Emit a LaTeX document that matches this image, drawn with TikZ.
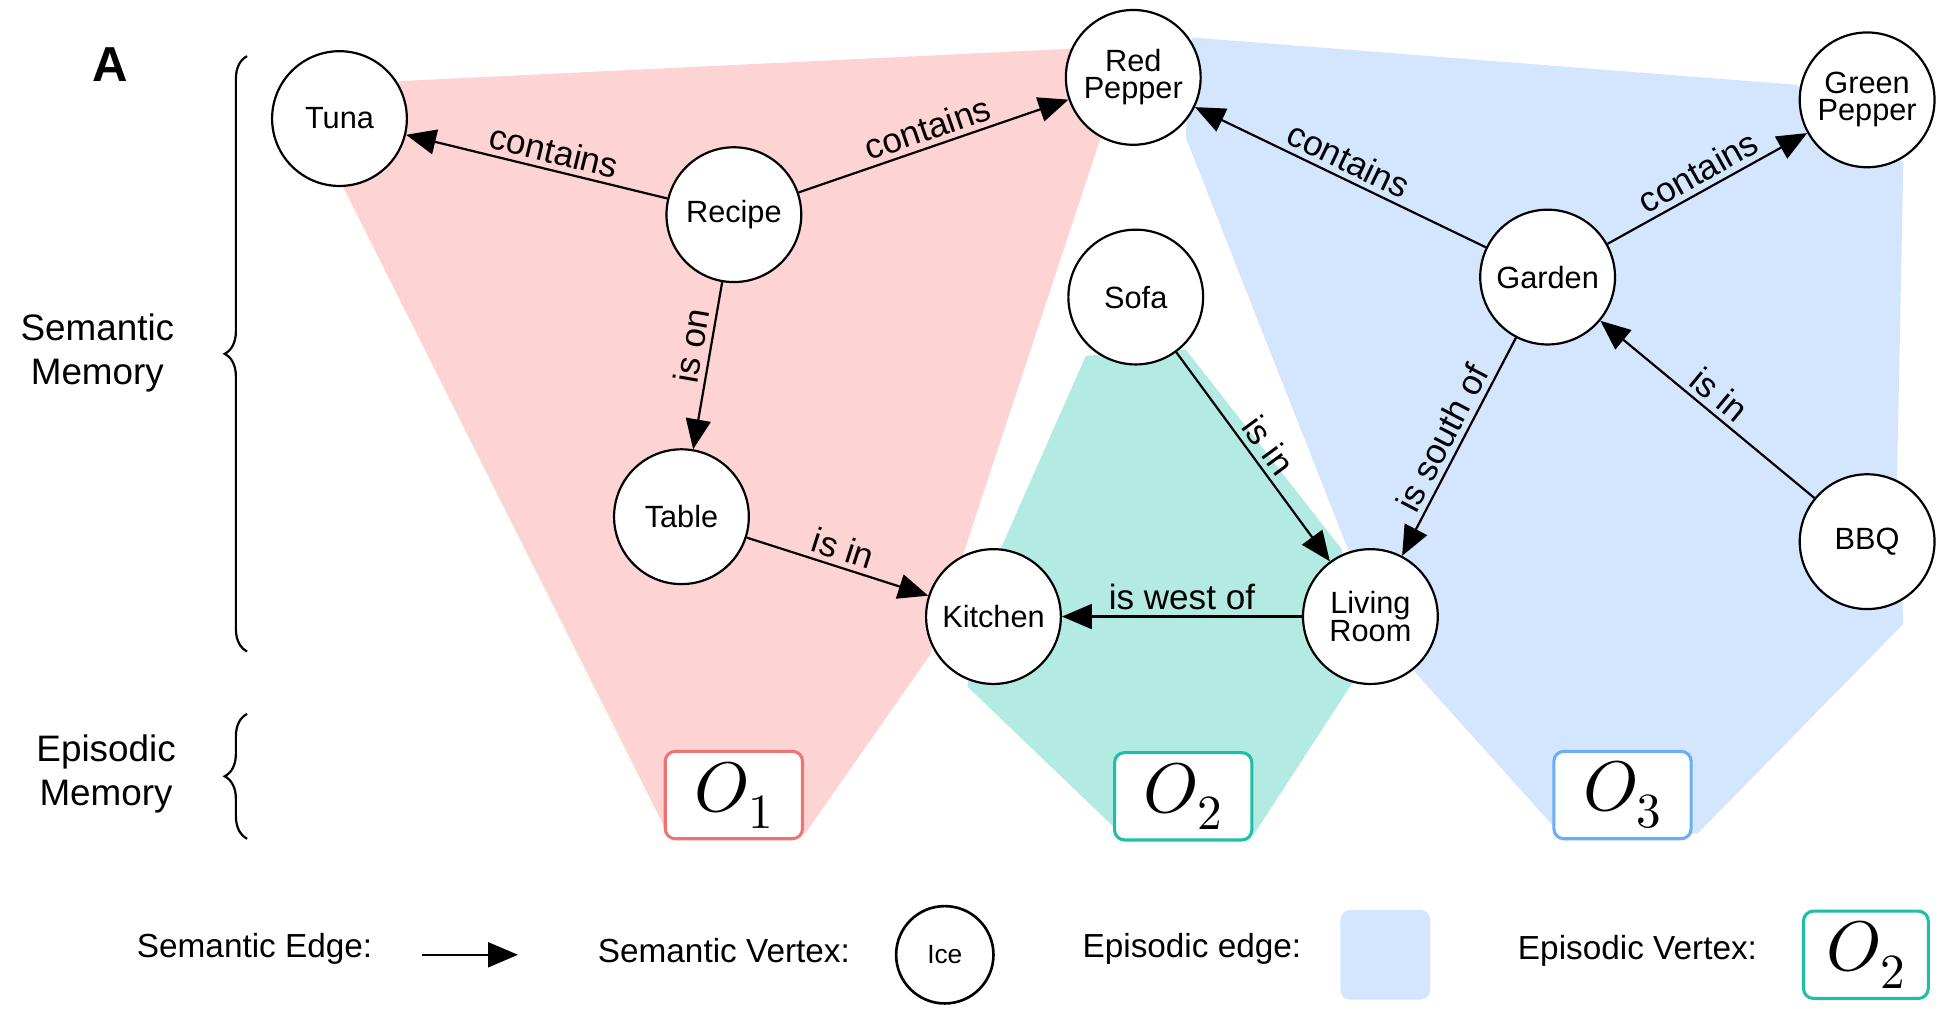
\documentclass[tikz,border=0pt]{standalone}
\usepackage{unicode-math}
\setmainfont{Liberation Sans}
\setmathfont{Latin Modern Math}
\usetikzlibrary{arrows.meta,decorations.pathreplacing}
\begin{document}
\begin{tikzpicture}[x=0.05cm,y=-0.05cm,
  vert/.style={circle,draw,line width=2.5pt,fill=white,minimum size=5.4cm,inner sep=0pt,align=center,font=\fontsize{35}{35}\selectfont},
  sedge/.style={line width=2.5pt,-{Triangle[length=1.2cm,width=1cm]}},
  elab/.style={font=\fontsize{40}{40}\selectfont,sloped,above,inner sep=6pt},
  obox/.style={draw,line width=3.5pt,rounded corners=0.4cm,fill=white,minimum width=5.5cm,minimum height=3.5cm,font=\fontsize{80}{80}\selectfont},
  side/.style={font=\fontsize{42}{50}\selectfont,align=center}]
\definecolor{rfill}{HTML}{FDD3D3}\definecolor{tfill}{HTML}{B3EBE3}\definecolor{bfill}{HTML}{D3E6FD}
\definecolor{rline}{HTML}{F07272}\definecolor{tline}{HTML}{1EBFA5}\definecolor{bline}{HTML}{6BAEF5}
\useasboundingbox (0,0) rectangle (1560,808);
\fill[rfill] (275,150)--(320,65)--(880,38)--(882,110)--(745,525)--(645,668)--(535,668)--cycle;
\fill[bfill] (955,30)--(1440,68)--(1525,130)--(1520,380)--(1525,500)--(1360,668)--(1250,668)--(1135,540)--(1080,440)--(950,110)--cycle;
\fill[tfill] (870,285)--(950,280)--(1075,440)--(1085,545)--(1005,668)--(898,668)--(775,550)--(795,455)--cycle;
\node[font=\fontsize{56}{56}\selectfont\bfseries] (A) at (88,52) {A};
\draw[line width=2.5pt,decorate,decoration={brace,amplitude=0.9cm}] (198,522)--(198,45) coordinate (b1);
\draw[line width=2.5pt,decorate,decoration={brace,amplitude=0.9cm}] (198,672)--(198,572) coordinate (b2);
\node[side] (sm) at (78,283) {Semantic\\Memory};
\node[side] (em) at (85,620) {Episodic\\Memory};
\node[vert] (tuna) at (272,95) {Tuna};
\node[vert] (rp) at (908,62) {Red\\[-4pt]Pepper};
\node[vert] (gp) at (1496,80) {Green\\[-4pt]Pepper};
\node[vert] (recipe) at (588,172) {Recipe};
\node[vert] (garden) at (1240,222) {Garden};
\node[vert] (sofa) at (910,238) {Sofa};
\node[vert] (table) at (546,414) {Table};
\node[vert] (kitchen) at (796,494) {Kitchen};
\node[vert] (lr) at (1098,494) {Living\\[-4pt]Room};
\node[vert] (bbq) at (1496,434) {BBQ};
\draw[sedge] (recipe) -- node[elab,pos=0.45]{contains} (tuna);
\draw[sedge] (recipe) -- node[elab]{contains} (rp);
\draw[sedge] (recipe) -- node[elab,pos=0.4]{is on} (table);
\draw[sedge] (table) -- node[elab]{is in} (kitchen);
\draw[sedge] (lr) -- node[elab]{is west of} (kitchen);
\draw[sedge] (sofa) -- node[elab]{is in} (lr);
\draw[sedge] (garden) -- node[elab]{contains} (rp);
\draw[sedge] (garden) -- node[elab]{contains} (gp);
\draw[sedge] (garden) -- node[elab]{is south of} (lr);
\draw[sedge] (bbq) -- node[elab]{is in} (garden);
\node[obox,draw=rline] (o1) at (588,637) {$O_1$};
\node[obox,draw=tline] (o2) at (948,638) {$O_2$};
\node[obox,draw=bline] (o3) at (1300,637) {$O_3$};
\node[side,font=\fontsize{38}{38}\selectfont] (l1) at (204,760) {Semantic Edge:};
\coordinate (a1) at (338,765); \coordinate (a2) at (415,765);
\draw[sedge] (a1) -- (a2);
\node[side,font=\fontsize{38}{38}\selectfont] (l2) at (580,762) {Semantic Vertex:};
\node[vert,minimum size=3.9cm,line width=3pt,font=\fontsize{30}{30}\selectfont] (ice) at (757,765) {Ice};
\node[side,font=\fontsize{38}{38}\selectfont] (l3) at (955,760) {Episodic edge:};
\node[fill=bfill,rounded corners=0.4cm,minimum size=3.6cm] (ee) at (1110,765) {};
\node[side,font=\fontsize{38}{38}\selectfont] (l4) at (1312,762) {Episodic Vertex:};
\node[obox,draw=tline,minimum width=5cm] (ov) at (1495,765) {$O_2$};
\end{tikzpicture}
\end{document}
